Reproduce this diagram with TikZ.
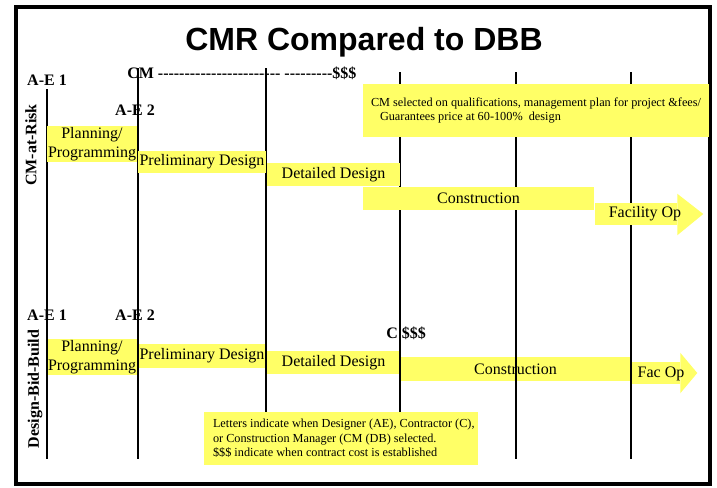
\documentclass[tikz,border=0pt]{standalone}
\usepackage{fontspec}
\setmainfont{Liberation Serif}
\newfontfamily\titlefont{Liberation Sans}
\usepackage{tikz}
\usetikzlibrary{calc,positioning}
\definecolor{hl}{RGB}{255,255,102}
\newcommand\dashrun[1]{\foreach \i in {1,...,#1}{-}}% single hyphens, no ligatures

\begin{document}
\begin{tikzpicture}[x=0.75pt,y=-0.75pt,% one unit = one pixel, y runs down
        every node/.style={inner sep=0pt},
        phase/.style 2 args={fill=hl,
            minimum width=#1*0.75pt,	% box size given in pixels
            minimum height=#2*0.75pt,
            align=center, font=\fontsize{12}{14}\selectfont},
        phasetext/.style={font=\fontsize{12}{14}\selectfont},
        who/.style={font=\bfseries\fontsize{12}{14}\selectfont},	% A-E, CM, C labels
        side/.style={font=\bfseries\fontsize{12}{14}\selectfont, rotate=90},
        notetext/.style={align=left, font=\fontsize{9.2}{10.8}\selectfont},
        tline/.style={line width=1pt}
    ]
    \useasboundingbox (0,0) rectangle (717,487);
    \draw[line width=3pt] (15.5,7) rectangle (710,484);

    \node[font=\titlefont\bfseries\fontsize{24}{28}\selectfont] (title) at (364,42) {CMR Compared to DBB};

    % who is chosen when
    \node[who, anchor=base] (ae1top) at (47,85) {A-E 1};
    \node[who, anchor=base] (ae2top) at (135,115) {A-E 2};
    \node[who, anchor=base west] (cmtop) at (127,78) {CM \dashrun{23} \dashrun{9}\$\$\$};
    \node[who, anchor=base] (ae1bot) at (47,320) {A-E 1};
    \node[who, anchor=base] (ae2bot) at (135,320) {A-E 2};
    \node[who, anchor=base west] (cbot) at (386,338) {C \$\$\$};

    \node[side] (cmr) at (31,145) {CM-at-Risk};
    \node[side] (dbb) at (35,389) {Design-Bid-Build};

    % Design-Bid-Build row (under the time lines)
    \node[phase={90}{36}] (plan2) at (92,357) {Planning/\\Programming};
    \node[phase={128}{24}] (prelim2) at (202,355.5) {Preliminary Design};
    \node[phase={133}{23}] (detail2) at (333.5,362.5) {Detailed Design};
    \node[phase={231}{24}] (constr2) at (515.5,369) {Construction};
    \node[phase={49}{22}] (facop2) at (655.5,373) {};
    \fill[hl] ($(facop2.north east)+(0,-9)$) -- ($(facop2.east)+(17,0)$) -- ($(facop2.south east)+(0,9)$) -- cycle;
    \node[phasetext] (facop2text) at (661,374) {Fac Op};

    % time lines
    \foreach \x/\ytop in {47/89, 138/68, 266/68, 400/72, 516/72, 631/72}
        \draw[tline] (\x,\ytop) -- (\x,459);

    % CM-at-Risk row (over the time lines)
    \node[phase={90}{36}] (plan1) at (92,144) {Planning/\\Programming};
    \node[phase={128}{22}] (prelim1) at (202,162) {Preliminary Design};
    \node[phase={133}{23}] (detail1) at (333.5,174.5) {Detailed Design};
    \node[phase={231}{23}] (constr1) at (478.5,198.5) {Construction};
    \node[phase={82}{22}] (facop1) at (636,214) {};
    \fill[hl] ($(facop1.north east)+(0,-9)$) -- ($(facop1.east)+(26,0)$) -- ($(facop1.south east)+(0,10)$) -- cycle;
    \node[phasetext] (facop1text) at (645,214) {Facility Op};

    \node[phase={346}{53}] (cmnote) at (536,110.5) {};
    \node[notetext, anchor=west, right=8 of cmnote.west] (cmnotetext) {CM selected on qualifications, management plan for project \&fees/\\\hspace*{6.75pt}Guarantees price at 60-100\%\ \ design};

    \node[phase={274}{53}] (legend) at (341,438.5) {};
    \node[notetext, anchor=west, right=9 of legend.west] (legendtext) {Letters indicate when Designer (AE), Contractor (C),\\or Construction Manager (CM (DB) selected.\\\$\$\$ indicate when contract cost is established};
\end{tikzpicture}
\end{document}
